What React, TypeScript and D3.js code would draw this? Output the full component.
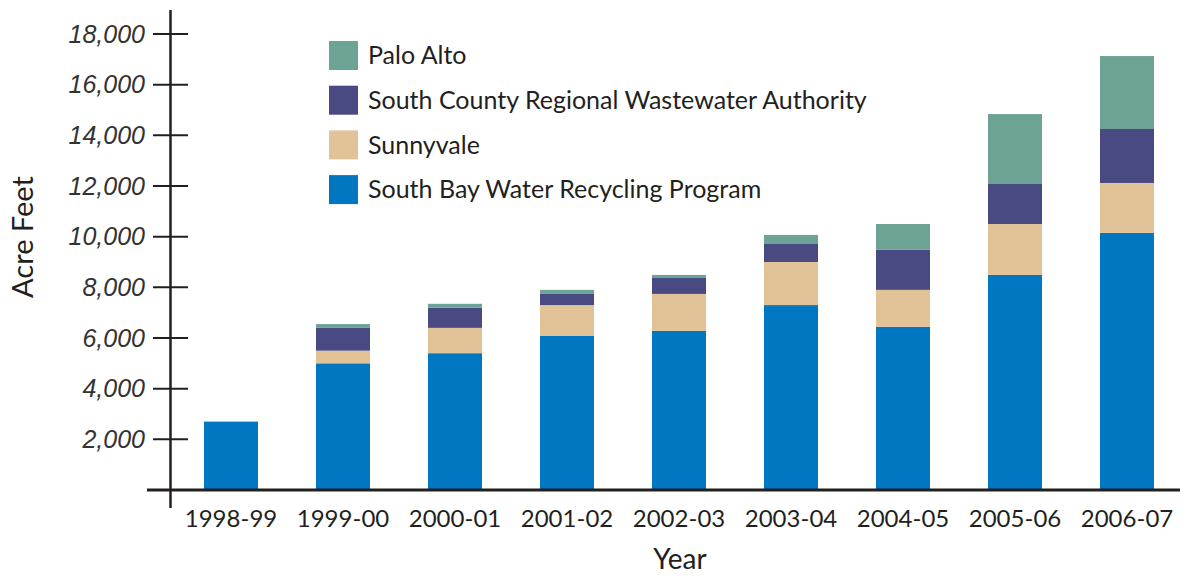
import * as d3 from "d3";

const years = ["1998-99", "1999-00", "2000-01", "2001-02", "2002-03", "2003-04", "2004-05", "2005-06", "2006-07"];
const southBay = [2700, 5000, 5400, 6080, 6280, 7300, 6440, 8490, 10150];
const sunnyvale = [0, 500, 1000, 1220, 1460, 1700, 1460, 2010, 1970];
const southCounty = [0, 900, 800, 440, 630, 710, 1580, 1580, 2130];
const paloAlto = [0, 150, 150, 160, 120, 360, 1020, 2760, 2880];
const yTicks = [2000, 4000, 6000, 8000, 10000, 12000, 14000, 16000, 18000];

const seriesNames = [
  "South Bay Water Recycling Program",
  "Sunnyvale",
  "South County Regional Wastewater Authority",
  "Palo Alto",
];
const colors = ["#0077c0", "#e2c297", "#4a4a83", "#6ca394"];

const rows = years.map((year, i) => ({
  year,
  s0: southBay[i],
  s1: sunnyvale[i],
  s2: southCounty[i],
  s3: paloAlto[i],
}));

const W = 1185;
const H = 576;
const ink = "#231f20";

export default function App() {
  const x = d3
    .scaleBand<string>()
    .domain(years)
    .range([204, 1154])
    .paddingInner(58 / 112)
    .paddingOuter(0);
  const y = d3.scaleLinear().domain([0, 18000]).range([490, 34]);
  const stack = d3.stack<(typeof rows)[number]>().keys(["s0", "s1", "s2", "s3"]);
  const layers = stack(rows);
  const fmt = d3.format(",");

  // legend listed top-down in reverse stack order
  const legendOrder = [3, 2, 1, 0];

  return (
    <div style={{ position: "fixed", left: 0, top: 0 }}>
      <svg width={W} height={H} style={{ display: "block", background: "#fff" }}>
        {layers.map((layer, li) => (
          <g key={li} fill={colors[li]}>
            {layer.map((d, i) =>
              d[1] - d[0] > 0 ? (
                <rect
                  key={i}
                  x={x(years[i])}
                  y={y(d[1])}
                  width={x.bandwidth()}
                  height={y(d[0]) - y(d[1])}
                />
              ) : null
            )}
          </g>
        ))}

        {/* y axis */}
        <line x1={170.5} x2={170.5} y1={10} y2={508} stroke={ink} strokeWidth={2.5} />
        {yTicks.map((t) => (
          <g key={t}>
            <line x1={153} x2={188} y1={y(t)} y2={y(t)} stroke={ink} strokeWidth={2} />
            <text
              x={145}
              y={y(t)}
              dy="0.35em"
              textAnchor="end"
              fontFamily="Liberation Sans"
              fontStyle="italic"
              fontSize={25}
              fill="#333"
            >
              {fmt(t)}
            </text>
          </g>
        ))}

        {/* x axis */}
        <line x1={147} x2={1180} y1={490} y2={490} stroke={ink} strokeWidth={3} />
        {years.map((yr) => (
          <text
            key={yr}
            x={(x(yr) ?? 0) + x.bandwidth() / 2}
            y={527}
            textAnchor="middle"
            fontFamily="Lato"
            fontSize={24}
            fill={ink}
          >
            {yr}
          </text>
        ))}

        <text x={680} y={569} textAnchor="middle" fontFamily="Lato" fontSize={28} fill={ink}>
          Year
        </text>
        <text
          transform="translate(33,237) rotate(-90)"
          textAnchor="middle"
          fontFamily="Lato"
          fontSize={29}
          fill={ink}
        >
          Acre Feet
        </text>

        {/* legend */}
        {legendOrder.map((si, k) => (
          <g key={si} transform={`translate(329,${41 + k * 44.7})`}>
            <rect width={29} height={29} fill={colors[si]} />
            <text x={39} y={14.5} dy="0.35em" fontFamily="Lato" fontSize={25} fill={ink}>
              {seriesNames[si]}
            </text>
          </g>
        ))}
      </svg>
    </div>
  );
}
